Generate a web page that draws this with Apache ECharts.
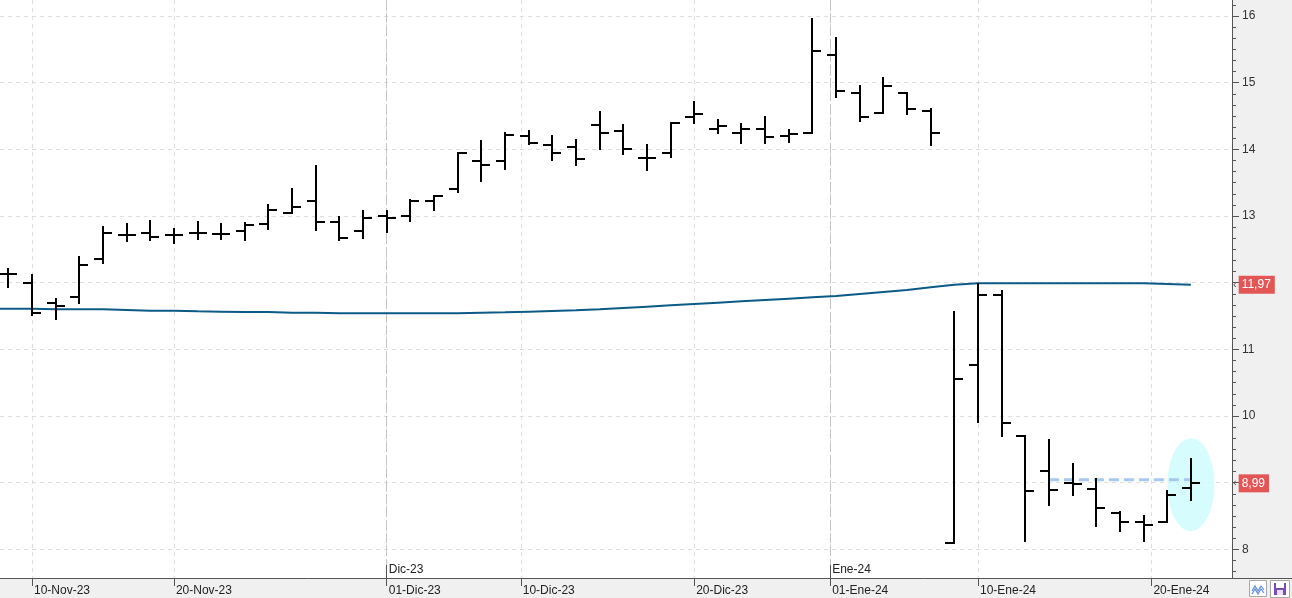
<!DOCTYPE html>
<html>
<head>
<meta charset="utf-8">
<script src="https://cdn.jsdelivr.net/npm/echarts@6/dist/echarts.min.js"></script>
<style>
html,body{margin:0;padding:0;background:#f0f0f0;}
#c{width:1292px;height:598px;}
</style>
</head>
<body>
<div id="c"></div>
<script>
// ---- data ----
const dates = [
  '2023-11-09','2023-11-10','2023-11-13','2023-11-14','2023-11-15','2023-11-16','2023-11-17',
  '2023-11-20','2023-11-21','2023-11-22','2023-11-23','2023-11-24','2023-11-27','2023-11-28',
  '2023-11-29','2023-11-30','2023-12-01','2023-12-04','2023-12-05','2023-12-06','2023-12-07',
  '2023-12-08','2023-12-11','2023-12-12','2023-12-13','2023-12-14','2023-12-15','2023-12-18',
  '2023-12-19','2023-12-20','2023-12-21','2023-12-22','2023-12-27','2023-12-28','2023-12-29',
  '2024-01-02','2024-01-03','2024-01-04','2024-01-05','2024-01-08','2024-01-09','2024-01-10',
  '2024-01-11','2024-01-12','2024-01-15','2024-01-16','2024-01-17','2024-01-18','2024-01-19',
  '2024-01-22','2024-01-23'
];
const opens = [
  12.13,12.00,11.70,11.78,12.36,12.72,12.75,12.72,12.75,12.73,12.78,12.88,13.04,13.23,12.91,12.77,13.00,
  13.00,13.22,13.40,13.83,13.82,14.20,14.07,14.03,14.37,14.28,13.87,13.94,14.48,14.31,14.25,14.31,14.20,
  14.24,15.41,14.84,14.54,14.84,14.57,8.09,10.76,11.82,9.70,9.17,8.99,8.90,8.55,8.41,8.41,8.92
];
const highs = [
  12.20,12.12,11.76,12.38,12.83,12.88,12.93,12.80,12.91,12.88,12.90,13.17,13.40,13.75,12.99,13.07,13.07,
  13.24,13.30,13.95,14.13,14.24,14.28,14.20,14.14,14.56,14.36,14.06,14.40,14.71,14.44,14.38,14.49,14.29,
  15.95,15.67,14.95,15.07,14.84,14.61,11.56,11.98,11.87,9.70,9.64,9.28,9.05,8.56,8.50,8.88,9.36
];
const lows = [
  11.94,11.52,11.46,11.70,12.30,12.63,12.64,12.60,12.66,12.66,12.64,12.80,13.04,12.79,12.64,12.67,12.76,
  12.93,13.09,13.36,13.52,13.70,14.08,13.84,13.76,14.00,13.93,13.69,13.89,14.39,14.24,14.09,14.09,14.11,
  14.24,14.79,14.43,14.54,14.53,14.06,8.09,9.91,9.70,8.12,8.67,8.82,8.35,8.27,8.12,8.41,8.74
];
const closes = [
  12.13,11.54,11.65,12.27,12.75,12.72,12.68,12.72,12.75,12.73,12.87,13.09,13.13,12.91,12.67,12.97,12.97,
  13.22,13.30,13.95,13.76,14.22,14.09,13.94,13.85,14.24,14.00,13.87,14.40,14.53,14.35,14.30,14.19,14.23,
  15.48,14.88,14.48,14.95,14.60,14.25,10.55,11.82,9.90,8.87,8.89,8.98,8.62,8.41,8.36,8.81,8.99
];
// moving average: first value belongs to the session before the first visible bar
const maStartIndex = -1;
const ma = [
  11.61,
  11.61,11.61,11.60,11.60,11.60,11.59,11.58,11.58,11.57,11.565,11.56,11.56,11.55,11.55,11.54,11.54,11.54,
  11.54,11.54,11.54,11.55,11.555,11.565,11.575,11.585,11.60,11.62,11.64,11.66,11.68,11.70,11.72,11.74,
  11.76,11.78,11.80,11.83,11.86,11.89,11.93,11.97,11.99,11.99,11.99,11.99,11.99,11.99,11.99,11.99,11.98,11.97
];
const tickDates  = ['2023-11-10','2023-11-20','2023-12-01','2023-12-10','2023-12-20','2024-01-01','2024-01-10','2024-01-20'];
const tickLabels = ['10-Nov-23','20-Nov-23','01-Dic-23','10-Dic-23','20-Dic-23','01-Ene-24','10-Ene-24','20-Ene-24'];
const monthDates  = ['2023-12-01','2024-01-01'];
const monthLabels = ['Dic-23','Ene-24'];
const yTicks  = [8,9,10,11,12,13,14,15,16];
const yLabels = [8,10,11,13,14,15,16];
const lastValues = [11.97, 8.99];
const levelLine = {from: 44, to: 50, value: 9.045};
const highlight = {index: 50, value: 8.97};

// ---- helpers ----
function dayNum(s){const p=s.split('-').map(Number);return Date.UTC(p[0],p[1]-1,p[2])/864e5;}
const dn = dates.map(dayNum);
function pos(s){
  const t=dayNum(s);
  for(let i=0;i<dn.length-1;i++){
    if(t>=dn[i] && t<=dn[i+1]) return i+(t-dn[i])/(dn[i+1]-dn[i]);
  }
  return t<dn[0]?0:dn.length-1;
}
const tickPos = tickDates.map(pos);
const monthPos = monthDates.map(pos);
function lookup(v, arrPos, arrLab){
  for(let i=0;i<arrPos.length;i++){ if(Math.abs(arrPos[i]-v)<1e-6) return arrLab[i]; }
  return '';
}
const yMin = 7.57, yMax = 16.24;
const xMin = -0.353, xMax = 51.74;
const minorTicks = [];
for(let k=Math.ceil(yMin*6); k<=Math.floor(yMax*6); k++){ minorTicks.push(k/6); }

const FONT = 'Liberation Sans';
const chart = echarts.init(document.getElementById('c'), null, {renderer:'canvas'});

const option = {
  backgroundColor: '#f0f0f0',
  animation: false,
  grid: {left:0, right:60, top:0, bottom:20, show:true, backgroundColor:'#ffffff', borderWidth:0,
         containLabel:false, outerBoundsMode:'none'},
  xAxis: [
    {
      type:'value', min:xMin, max:xMax, position:'bottom',
      axisLine:{show:true, onZero:false, lineStyle:{color:'#555555', width:1}},
      axisTick:{show:true, length:8, customValues: tickPos, lineStyle:{color:'#555555'}},
      axisLabel:{customValues: tickPos, formatter: v => lookup(v, tickPos, tickLabels),
                 align:'left', margin:7, padding:[0,0,0,2], color:'#222', fontSize:12, fontFamily:FONT},
      splitLine:{show:true, lineStyle:{color:'#dedede', type:[4,4], width:1}}
    },
    {
      type:'value', min:xMin, max:xMax, position:'bottom',
      axisLine:{show:false, onZero:false},
      axisTick:{show:true, inside:true, length:13, customValues: monthPos, lineStyle:{color:'#555555'}},
      axisLabel:{inside:true, customValues: monthPos, formatter: v => lookup(v, monthPos, monthLabels),
                 align:'left', margin:2, padding:[0,0,0,2], color:'#222', fontSize:12, fontFamily:FONT},
      splitLine:{show:true, lineStyle:{color:'#c4c4c4', type:[10,3], width:1}}
    }
  ],
  yAxis: [
    {
      type:'value', min:yMin, max:yMax, position:'right',
      axisLine:{show:true, onZero:false, lineStyle:{color:'#555555', width:1}},
      axisTick:{show:true, length:7, customValues: yTicks, lineStyle:{color:'#555555'}},
      axisLabel:{customValues: yLabels, margin:10, color:'#333', fontSize:12, fontFamily:FONT},
      splitLine:{show:true, lineStyle:{color:'#dedede', type:[4,4], width:1}}
    },
    {
      type:'value', min:yMin, max:yMax, position:'right',
      axisLine:{show:false, onZero:false},
      axisTick:{show:true, length:4, customValues: minorTicks, lineStyle:{color:'#555555'}},
      axisLabel:{show:false}, splitLine:{show:false}
    },
    {
      type:'value', min:yMin, max:yMax, position:'right',
      axisLine:{show:false, onZero:false}, axisTick:{show:false}, splitLine:{show:false},
      axisLabel:{customValues: lastValues, margin:1,
        formatter: v => '{a|‹}{b|' + v.toFixed(2).replace('.', ',') + '}',
        rich:{
          a:{color:'#555', fontSize:11, fontFamily:FONT, padding:[0,2,0,0]},
          b:{color:'#ffffff', backgroundColor:'#e35656', fontSize:12, fontFamily:FONT, padding:[3,4,3,3]}
        }}
    }
  ],
  series: [
    {
      type:'scatter', xAxisIndex:0, yAxisIndex:0, silent:true, z:1,
      data:[[highlight.index, highlight.value]], symbol:'circle', symbolSize:[47,93],
      itemStyle:{color:'#ccfbfd'}
    },
    {
      type:'line', xAxisIndex:0, yAxisIndex:0, silent:true, z:2,
      data: ma.map((v,i)=>[i+maStartIndex, v]), showSymbol:false, symbol:'none',
      lineStyle:{color:'#0c5a86', width:2}
    },
    {
      type:'line', xAxisIndex:0, yAxisIndex:0, silent:true, z:3,
      data: [[levelLine.from, levelLine.value],[levelLine.to, levelLine.value]], showSymbol:false, symbol:'none',
      lineStyle:{color:'#a9c8ee', width:3, type:[10,5]}
    },
    {
      type:'custom', xAxisIndex:0, yAxisIndex:0, silent:true, z:5,
      data: dates.map((d,i)=>[i, opens[i], highs[i], lows[i], closes[i]]),
      encode:{x:0, y:[1,2,3,4]},
      renderItem: function(params, api){
        const x = api.value(0);
        const pO = api.coord([x, api.value(1)]);
        const pH = api.coord([x, api.value(2)]);
        const pL = api.coord([x, api.value(3)]);
        const pC = api.coord([x, api.value(4)]);
        const cx = Math.round(pH[0]);
        const w = 9;
        const st = {stroke:'#000000', lineWidth:2};
        return {type:'group', children:[
          {type:'line', shape:{x1:cx, y1:Math.round(pH[1])-1, x2:cx, y2:Math.round(pL[1])+1}, style:st},
          {type:'line', shape:{x1:cx-w, y1:Math.round(pO[1]), x2:cx, y2:Math.round(pO[1])}, style:st},
          {type:'line', shape:{x1:cx, y1:Math.round(pC[1]), x2:cx+w, y2:Math.round(pC[1])}, style:st}
        ]};
      }
    }
  ],
  graphic: [
    {type:'line', shape:{x1:1232, y1:578.5, x2:1292, y2:578.5}, style:{stroke:'#555555', lineWidth:1}, silent:true},
    {type:'rect', shape:{x:1249.5, y:580.5, width:17, height:16}, style:{fill:'#ffffff', stroke:'#a8a8a8', lineWidth:1}, silent:true},
    {type:'polyline', shape:{points:[[1252,591],[1255,586],[1258,591],[1261,586],[1264,590]]}, style:{stroke:'#5b8fd6', lineWidth:1.2, fill:null}, silent:true},
    {type:'polyline', shape:{points:[[1252,594],[1255,589],[1258,594],[1261,589],[1264,593]]}, style:{stroke:'#5b8fd6', lineWidth:1.2, fill:null}, silent:true},
    {type:'rect', shape:{x:1270.5, y:580.5, width:19, height:17}, style:{fill:'#ffffff', stroke:'#a8a8a8', lineWidth:1}, silent:true},
    {type:'rect', shape:{x:1274, y:583, width:12, height:12}, style:{fill:'#7b4db3'}, silent:true},
    {type:'rect', shape:{x:1276, y:583, width:8, height:5}, style:{fill:'#ffffff'}, silent:true},
    {type:'rect', shape:{x:1277, y:590, width:6, height:5}, style:{fill:'#e8e0f5'}, silent:true}
  ]
};
chart.setOption(option);
</script>
</body>
</html>
